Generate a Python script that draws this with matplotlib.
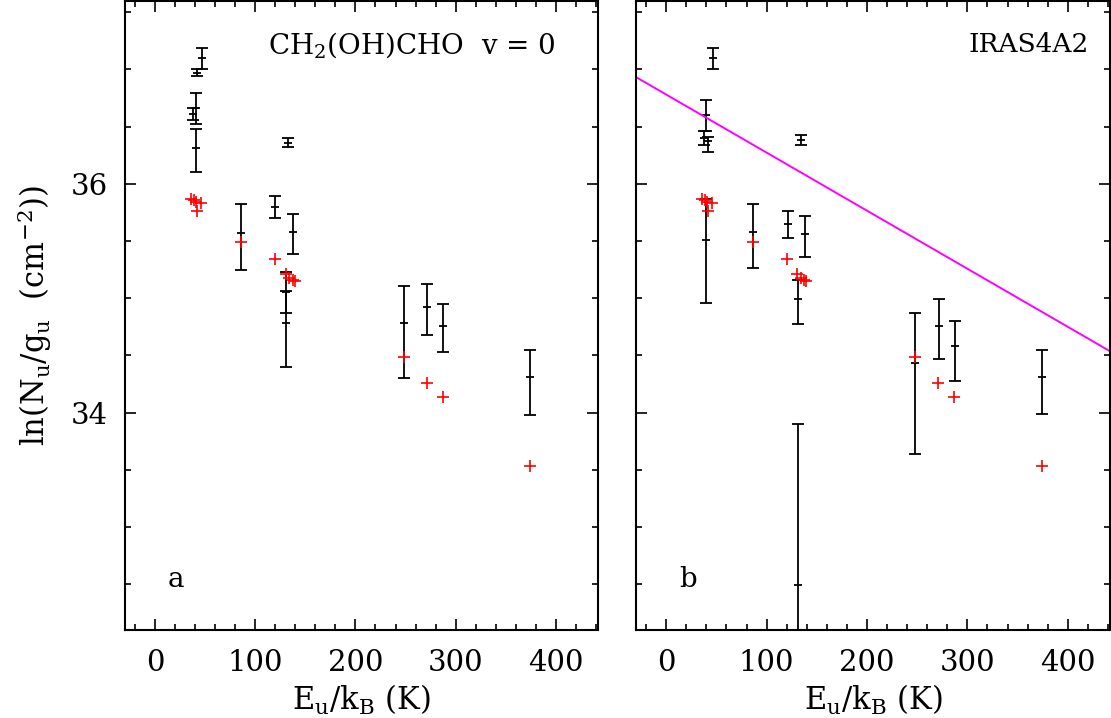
import numpy as np
import matplotlib
matplotlib.use("Agg")
import matplotlib.pyplot as plt

plt.rcParams['font.family'] = ['DejaVu Serif']
plt.rcParams['mathtext.fontset'] = 'dejavuserif'

# --- data ------------------------------------------------------------------
# panel a: observed points (Eu/kB, ln(Nu/gu), lower err, upper err)
a_x = [47, 42, 40.5, 37.5, 40.5, 133, 86, 120, 138, 131, 131, 248, 271, 287, 374]
a_y = [37.10, 36.97, 36.66, 36.61, 36.31, 36.36, 35.57, 35.80, 35.58, 35.05, 34.78,
       34.78, 34.92, 34.76, 34.31]
a_lo = [0.10, 0.03, 0.14, 0.05, 0.21, 0.04, 0.32, 0.10, 0.19, 0.18, 0.38, 0.48, 0.24, 0.23, 0.33]
a_hi = [0.09, 0.03, 0.13, 0.05, 0.17, 0.04, 0.25, 0.095, 0.16, 0.175, 0.28, 0.33, 0.20, 0.19, 0.24]

# panel b: observed points
b_x = [47, 39.5, 37.5, 42, 39.5, 86, 121, 138.5, 131.5, 134.5, 131.5, 248, 272, 288, 374]
b_y = [37.10, 36.60, 36.40, 36.375, 35.51, 35.58, 35.65, 35.56, 34.99, 36.38, 32.49,
       34.43, 34.76, 34.58, 34.31]
b_lo = [0.10, 0.14, 0.06, 0.10, 0.55, 0.32, 0.12, 0.20, 0.22, 0.04, 1.41, 0.79, 0.29, 0.30, 0.32]
b_hi = [0.09, 0.13, 0.06, 0.035, 0.36, 0.24, 0.11, 0.16, 0.17, 0.05, 1.41, 0.44, 0.23, 0.22, 0.24]

# model points (red crosses), same in both panels
m_x = [36, 39, 41, 46, 42, 86, 120, 130.6, 133.9, 137.3, 139.3, 248, 271, 287, 374]
m_y = [35.87, 35.86, 35.84, 35.83, 35.76, 35.49, 35.34, 35.21, 35.18, 35.16, 35.15,
       34.49, 34.26, 34.14, 33.53]

# rotational diagram fit in panel b: ln N = b0 - E/Trot
fit_b0 = 36.78
fit_trot = 197.0
fit_x = [-30, 442]

xlim = (-30, 442)
ylim = (32.1, 37.6)

fig = plt.figure(figsize=(11.11, 7.18), dpi=100)
axL = fig.add_axes([0.1125, 0.1226, 0.4257, 0.8764])
axR = fig.add_axes([0.5725, 0.1226, 0.4266, 0.8764])


def style(ax, show_ylabels):
    ax.set_xlim(*xlim)
    ax.set_ylim(*ylim)
    ax.set_xticks(np.arange(0, 401, 100))
    ax.set_xticks(np.arange(-20, 441, 20), minor=True)
    ax.set_yticks([34, 36])
    ax.set_yticks(np.arange(32.5, 37.6, 0.5), minor=True)
    ax.tick_params(which='both', direction='in', top=True, right=True,
                   width=1.2, labelsize=21)
    ax.tick_params(axis='x', pad=14)
    ax.tick_params(axis='y', pad=12)
    ax.tick_params(which='major', length=8)
    ax.tick_params(which='minor', length=4)
    for s in ax.spines.values():
        s.set_linewidth(1.5)
    if not show_ylabels:
        ax.set_yticklabels([])
    ax.set_xlabel(r'$\mathrm{E_u/k_B}$ (K)', fontsize=22, labelpad=4)


def draw(ax, x, y, lo, hi):
    ax.errorbar(x, y, yerr=[lo, hi], fmt='none', ecolor='black', elinewidth=1.3,
                capsize=4.5, capthick=1.3)
    ax.plot(x, y, linestyle='none', marker='_', markersize=6, color='black', mew=1.3)
    ax.plot(m_x, m_y, linestyle='none', marker='+', markersize=9, color='red', mew=1.2)


draw(axL, a_x, a_y, a_lo, a_hi)
draw(axR, b_x, b_y, b_lo, b_hi)

fx = np.array(fit_x, dtype=float)
axR.plot(fx, fit_b0 - fx / fit_trot, color='#ff00ff', lw=1.4)

style(axL, True)
style(axR, False)
axL.set_ylabel(r'ln($\mathrm{N_u/g_u}$  (cm$^{-2}$))', fontsize=22, labelpad=12)

axL.text(0.91, 0.93, r'CH$_2$(OH)CHO  v = 0', transform=axL.transAxes,
         ha='right', va='center', fontsize=20)
axR.text(0.955, 0.93, 'IRAS4A2', transform=axR.transAxes,
         ha='right', va='center', fontsize=19)
axL.text(0.108, 0.08, 'a', transform=axL.transAxes, ha='center', va='center', fontsize=20)
axR.text(0.11, 0.08, 'b', transform=axR.transAxes, ha='center', va='center', fontsize=20)

fig.savefig('out.png', dpi=100)
